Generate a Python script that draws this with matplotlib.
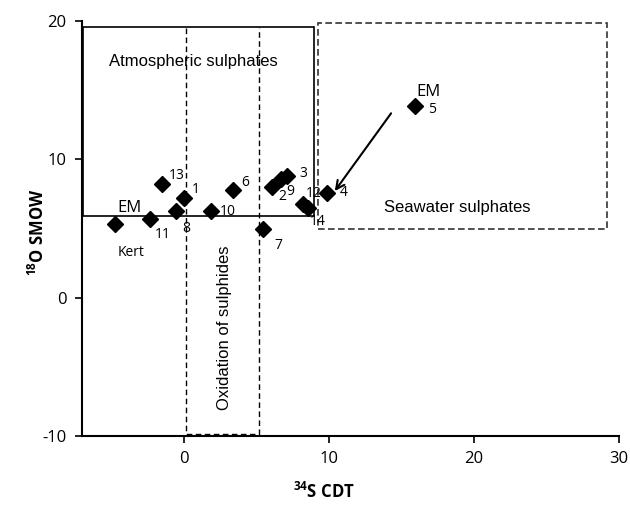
import matplotlib
matplotlib.use("Agg")
import matplotlib.pyplot as plt
from matplotlib.patches import Rectangle

plt.rcParams['mathtext.fontset'] = 'custom'
plt.rcParams['mathtext.rm'] = 'Open Sans'
plt.rcParams['mathtext.bf'] = 'Open Sans:bold'
plt.rcParams['axes.unicode_minus'] = False   # "-10" with a plain hyphen, as in the original

# isotope data (d34S CDT, d18O SMOW)
sample_ids = ["Kert", "11", "13", "1", "8", "10", "6", "2", "9", "3", "12", "14", "7", "4", "5"]
s34 = [-4.7, -2.3, -1.5, 0.0, -0.5, 1.9, 3.4, 6.1, 6.7, 7.1, 8.2, 8.6, 5.5, 9.9, 15.9]
o18 = [5.3, 5.7, 8.2, 7.2, 6.3, 6.3, 7.8, 8.0, 8.6, 8.8, 6.8, 6.5, 5.0, 7.6, 13.9]

# label offsets in points (dx, dy)
offsets = {
    "11": (9, -11), "13": (11, 6), "1": (9, 6), "8": (7, -13), "10": (12, -1),
    "6": (9, 5), "2": (7, -7), "9": (7, -9), "3": (12, 2), "12": (8, 7),
    "14": (7, -10), "7": (11, -12), "4": (12, 0), "5": (13, -3),
}

fig = plt.figure(figsize=(6.3, 5.05), dpi=100)
ax = fig.add_axes([0.130, 0.137, 0.853, 0.821])

ax.set_xlim(-7, 30)
ax.set_ylim(-10, 20)
ax.set_xticks([0, 10, 20, 30])
ax.set_yticks([-10, 0, 10, 20])
for sp in ("top", "right"):
    ax.spines[sp].set_visible(False)
for sp in ("left", "bottom"):
    ax.spines[sp].set_linewidth(1.5)
    ax.spines[sp].set_color("black")
ax.tick_params(direction="out", length=5, width=1.2, labelsize=12, pad=6)
for lab in ax.get_xticklabels() + ax.get_yticklabels():
    lab.set_fontfamily("Open Sans")

# source fields
ax.add_patch(Rectangle((-6.9, 5.9), 15.85, 13.7, fill=False, ec="black", lw=1.2, zorder=1))
ax.add_patch(Rectangle((9.27, 5.0), 19.9, 14.9, fill=False, ec="#333333", lw=1.2, ls=(0, (4, 2)), zorder=1))
ax.plot([0.15, 0.15, 5.18, 5.18], [19.5, -9.85, -9.85, 19.5], color="black", lw=1, ls=(0, (4, 2.5)), zorder=1)

ax.text(0.7, 17.1, "Atmospheric sulphates", fontsize=12, family="Liberation Sans", ha="center", va="center")
ax.text(18.85, 6.5, "Seawater sulphates", fontsize=12, family="Liberation Sans", ha="center", va="center")
ax.text(2.8, -2.2, "Oxidation of sulphides", fontsize=12, family="Liberation Sans", ha="center", va="center", rotation=90)

# samples
ax.plot(s34, o18, ls="none", marker="D", ms=8, color="black", zorder=3)

for sid, x, y in zip(sample_ids, s34, o18):
    if sid == "Kert":
        ax.annotate("EM", (x, y), xytext=(10, 12), textcoords="offset points",
                    fontsize=12, family="Open Sans", ha="center", va="center")
        ax.annotate("Kert", (x, y), xytext=(11, -20), textcoords="offset points",
                    fontsize=10, family="Open Sans", ha="center", va="center")
        continue
    dx, dy = offsets[sid]
    ax.annotate(sid, (x, y), xytext=(dx, dy), textcoords="offset points",
                fontsize=10, family="Open Sans", ha="center", va="center")
    if sid == "5":
        ax.annotate("EM", (x, y), xytext=(10, 10), textcoords="offset points",
                    fontsize=12, family="Open Sans", ha="center", va="center")

# mixing arrow
ax.annotate("", xy=(10.3, 7.55), xytext=(14.4, 13.5),
            arrowprops=dict(arrowstyle="->", color="black", lw=1.5, mutation_scale=15))

ax.set_xlabel(r"$^{\mathbf{34}}$S CDT", fontsize=12, fontweight="bold", family="Open Sans")
ax.set_ylabel(r"$^{\mathbf{18}}$O SMOW", fontsize=12, fontweight="bold", family="Open Sans")
ax.xaxis.set_label_coords(0.45, -0.112)
ax.yaxis.set_label_coords(-0.064, 0.49)

fig.savefig("out.png", dpi=100)
